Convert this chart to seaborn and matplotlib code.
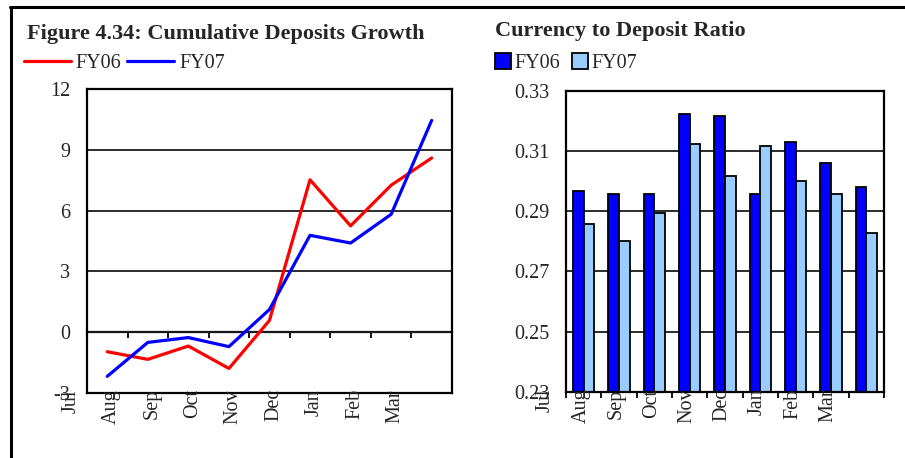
import matplotlib
matplotlib.use("Agg")
import matplotlib.pyplot as plt
from matplotlib.lines import Line2D
from matplotlib.patches import Patch
import numpy as np
import pandas as pd
import seaborn as sns

# ---- data -------------------------------------------------------------
months = ["Jul", "Aug", "Sep", "Oct", "Nov", "Dec", "Jan", "Feb", "Mar"]
years = ["FY06", "FY07"]

growth_fy06 = [-0.98, -1.36, -0.70, -1.81, 0.57, 7.53, 5.25, 7.26, 8.61]
growth_fy07 = [-2.20, -0.52, -0.28, -0.73, 1.11, 4.78, 4.40, 5.82, 10.47]

ratio_fy06 = [0.2968, 0.2956, 0.2956, 0.3222, 0.3216, 0.2956, 0.3130, 0.3061, 0.2980]
ratio_fy07 = [0.2856, 0.2800, 0.2893, 0.3123, 0.3017, 0.3117, 0.3000, 0.2956, 0.2826]

growth_ticks = [-3, 0, 3, 6, 9, 12]
ratio_ticks = [0.23, 0.25, 0.27, 0.29, 0.31, 0.33]

line_colors = {"FY06": "#FF0000", "FY07": "#0000FF"}
bar_colors = {"FY06": "#0000FF", "FY07": "#99CCFF"}

# ---- long tables for seaborn -------------------------------------------
pos = list(range(len(months)))
growth_df = pd.DataFrame({
    "pos": pos * 2,
    "month": months * 2,
    "growth": growth_fy06 + growth_fy07,
    "year": ["FY06"] * len(months) + ["FY07"] * len(months),
})
ratio_df = pd.DataFrame({
    "month": months * 2,
    "ratio": ratio_fy06 + ratio_fy07,
    "year": ["FY06"] * len(months) + ["FY07"] * len(months),
})

# ---- style -------------------------------------------------------------
sns.set_style("white")
plt.rcParams["font.family"] = ["Liberation Serif", "DejaVu Serif"]
FS = 14.5
TITLE_FS = 16

fig = plt.figure(figsize=(9.05, 4.58), dpi=100)

# outer frame (top and left rules)
fig.add_artist(Line2D([0.011, 1.0], [0.985, 0.985], transform=fig.transFigure,
                      color="black", lw=2.2))
fig.add_artist(Line2D([0.0125, 0.0125], [0.0, 0.985], transform=fig.transFigure,
                      color="black", lw=2.2))

ax1 = fig.add_axes([0.0961, 0.1430, 0.4033, 0.6616])
ax2 = fig.add_axes([0.6254, 0.1441, 0.3514, 0.6583])


def style_axes(ax, ticks, fmt):
    ax.set_yticks(ticks)
    ax.set_yticklabels([fmt(t) for t in ticks], fontsize=FS)
    ax.set_ylim(ticks[0], ticks[-1])
    ax.yaxis.grid(True, color="#1a1a1a", lw=1.3)
    ax.set_axisbelow(True)
    ax.tick_params(axis="y", length=0, pad=12)
    for s in ax.spines.values():
        s.set_visible(True)
        s.set_color("black")
        s.set_linewidth(1.6)
    ax.set_xlabel("")
    ax.set_ylabel("")


def month_labels(ax, shift):
    # category labels sit one slot to the left of their data
    ax.set_xticks([])
    for i, m in enumerate(months):
        ax.annotate(m, xy=(i - 1 + shift, 0), xycoords=("data", "axes fraction"),
                    xytext=(0, 2.5), textcoords="offset points",
                    rotation=90, ha="center", va="top", fontsize=FS,
                    annotation_clip=False)


# ---- left: cumulative deposits growth ----------------------------------
sns.lineplot(data=growth_df, x="pos", y="growth", hue="year",
             palette=line_colors, linewidth=2.3, legend=False, ax=ax1)
ax1.set_xlim(-0.5, len(months) - 0.5)
style_axes(ax1, growth_ticks, lambda t: f"{t:d}")
month_labels(ax1, 0.1)

zero_frac = (0 - growth_ticks[0]) / (growth_ticks[-1] - growth_ticks[0])
zax = ax1.secondary_xaxis(zero_frac)
zax.set_xticks(np.arange(0.5, len(months) - 0.5, 1.0))
zax.set_xticklabels([])
zax.tick_params(axis="x", direction="out", length=4, width=1.3, color="black")
zax.spines["bottom"].set_linewidth(1.6)
zax.spines["bottom"].set_color("black")

ax1.legend(handles=[Line2D([], [], color=line_colors[y], lw=2.3, label=y) for y in years],
           loc="upper left", bbox_to_anchor=(0.026, 0.882),
           bbox_transform=fig.transFigure, ncol=2, frameon=False,
           fontsize=FS, handlelength=2.35, handletextpad=0.25,
           columnspacing=0.25, borderpad=0, borderaxespad=0)
fig.text(0.030, 0.915, "Figure 4.34: Cumulative Deposits Growth",
         fontsize=TITLE_FS, fontweight="bold", ha="left", va="baseline")

# ---- right: currency to deposit ratio ----------------------------------
sns.barplot(data=ratio_df, x="month", y="ratio", hue="year", order=months,
            hue_order=years, palette=bar_colors, saturation=1, width=0.6, gap=0,
            edgecolor="black", linewidth=1.3, legend=False, ax=ax2)
ax2.set_xlim(-0.5, len(months) - 0.5)
style_axes(ax2, ratio_ticks, lambda t: f"{t:.2f}")
month_labels(ax2, -0.08)
ax2.set_xticks(np.arange(-0.5, len(months), 1.0), minor=True)
ax2.tick_params(axis="x", which="minor", direction="out", length=4.5,
                width=1.3, color="black", bottom=True)

ax2.legend(handles=[Patch(facecolor=bar_colors[y], edgecolor="black", lw=1.3, label=y)
                    for y in years],
           loc="upper left", bbox_to_anchor=(0.547, 0.884),
           bbox_transform=fig.transFigure, ncol=2, frameon=False,
           fontsize=FS, handlelength=0.8, handleheight=0.8, handletextpad=0.15,
           columnspacing=0.6, borderpad=0, borderaxespad=0)
fig.text(0.547, 0.921, "Currency to Deposit Ratio",
         fontsize=TITLE_FS, fontweight="bold", ha="left", va="baseline")

fig.savefig("out.png", dpi=100, facecolor="white")
